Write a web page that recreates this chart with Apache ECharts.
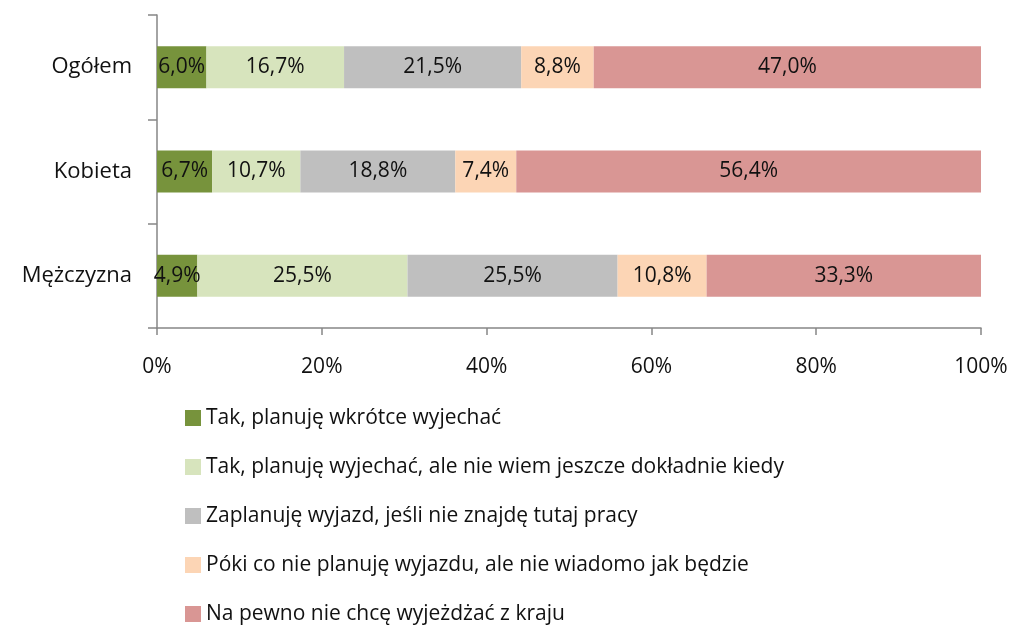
<!DOCTYPE html>
<html>
<head>
<meta charset="utf-8">
<script src="https://cdn.jsdelivr.net/npm/echarts@6/dist/echarts.min.js"></script>
<style>
  html, body { margin: 0; padding: 0; background: #fff; }
  #chart { width: 1016px; height: 626px; }
</style>
</head>
<body>
<div id="chart"></div>
<script>
const categories = ['Ogółem', 'Kobieta', 'Mężczyzna']
const seriesNames = [
  'Tak, planuję wkrótce wyjechać',
  'Tak, planuję wyjechać, ale nie wiem jeszcze dokładnie kiedy',
  'Zaplanuję wyjazd, jeśli nie znajdę tutaj pracy',
  'Póki co nie planuję wyjazdu, ale nie wiadomo jak będzie',
  'Na pewno nie chcę wyjeżdżać z kraju'
]
const wkrotce = [6.0, 6.7, 4.9]
const niewiem = [16.7, 10.7, 25.5]
const jesliPracy = [21.5, 18.8, 25.5]
const pokiCo = [8.8, 7.4, 10.8]
const naPewnoNie = [47.0, 56.4, 33.3]
const colors = ['#77933C', '#D7E4BD', '#BFBFBF', '#FCD5B5', '#D99694']
const xTicks = [0, 20, 40, 60, 80, 100]

const font = 'Open Sans'
const values = [wkrotce, niewiem, jesliPracy, pokiCo, naPewnoNie]

const chart = echarts.init(document.getElementById('chart'))

const series = values.map((data, i) => ({
  name: seriesNames[i],
  type: 'bar',
  stack: 'total',
  barWidth: 42,
  data: data,
  itemStyle: { color: colors[i] },
  label: {
    show: true,
    position: 'inside',
    color: '#111',
    fontFamily: font,
    fontSize: 21,
    formatter: p => p.value.toFixed(1).replace('.', ',') + '%'
  }
}))

chart.setOption({
  animation: false,
  textStyle: { fontFamily: font },
  color: colors,
  grid: { left: 157, right: 35, top: 15, bottom: 298, containLabel: false },
  xAxis: {
    type: 'value',
    min: 0,
    max: 100,
    interval: 20,
    splitLine: { show: false },
    axisLine: { show: true, lineStyle: { color: '#868686', width: 1.5 } },
    axisTick: { show: true, length: 7, lineStyle: { color: '#868686', width: 1.5 } },
    axisLabel: {
      margin: 29,
      color: '#111',
      fontFamily: font,
      fontSize: 21,
      formatter: v => xTicks.includes(v) ? v + '%' : ''
    }
  },
  yAxis: {
    type: 'category',
    inverse: true,
    data: categories,
    axisLine: { show: true, lineStyle: { color: '#868686', width: 1.5 } },
    axisTick: { show: true, length: 9, lineStyle: { color: '#868686', width: 1.5 } },
    axisLabel: { margin: 25, color: '#111', fontFamily: font, fontSize: 22 }
  },
  legend: {
    orient: 'vertical',
    left: 185,
    top: 407,
    padding: 0,
    icon: 'rect',
    itemWidth: 16,
    itemHeight: 16,
    itemGap: 27,
    data: seriesNames,
    textStyle: { color: '#111', fontFamily: font, fontSize: 21, lineHeight: 22 }
  },
  series: series
})
</script>
</body>
</html>
